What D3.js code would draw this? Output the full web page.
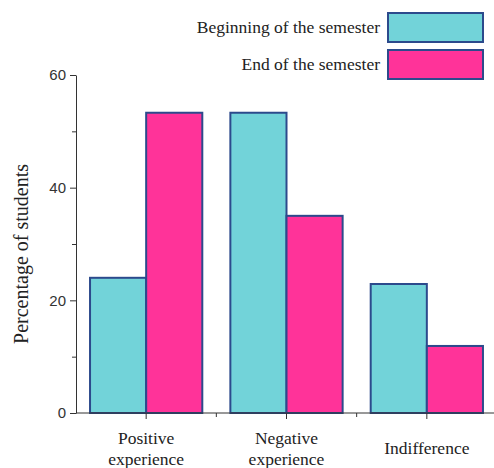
<!DOCTYPE html>
<html>
<head>
<meta charset="utf-8">
<script src="https://cdn.jsdelivr.net/npm/d3@7"></script>
<style>
  body { margin: 0; background: #fff; }
</style>
</head>
<body>
<div id="chart"></div>
<script>
const width = 494;
const height = 468;
const serif = "'Liberation Serif', 'Times New Roman', serif";
const sans = "'Liberation Sans', Arial, sans-serif";

// data
const categories = [["Positive", "experience"], ["Negative", "experience"], ["Indifference"]];
const seriesNames = ["Beginning of the semester", "End of the semester"];
const beginning = [24, 53.3, 22.9];
const ending = [53.3, 35, 11.9];
const yTicks = [0, 20, 40, 60];
const yMinor = [10, 30, 50];

const colors = ["#72d3d9", "#ff3399"];
const strokeColor = "#2c4a8c";

const margin = { left: 76, right: -3, top: 75, bottom: 55 };

const svg = d3.select("#chart")
  .append("svg")
  .attr("width", width)
  .attr("height", height);

const x = d3.scaleBand()
  .domain(d3.range(categories.length))
  .range([margin.left, width - margin.right])
  .paddingInner(0)
  .paddingOuter(0);

const xSub = d3.scaleBand()
  .domain([0, 1])
  .range([0, x.bandwidth()])
  .paddingOuter(0.25)
  .paddingInner(0);

const y = d3.scaleLinear()
  .domain([0, 60])
  .range([height - margin.bottom, margin.top]);

// bars
const groups = svg.append("g")
  .selectAll("g")
  .data(categories.map((c, i) => [beginning[i], ending[i]]))
  .enter()
  .append("g")
  .attr("transform", (d, i) => `translate(${x(i)},0)`);

groups.selectAll("rect")
  .data(d => d)
  .enter()
  .append("rect")
  .attr("x", (d, j) => xSub(j))
  .attr("width", xSub.bandwidth())
  .attr("y", d => y(d))
  .attr("height", d => y(0) - y(d))
  .attr("fill", (d, j) => colors[j])
  .attr("stroke", strokeColor)
  .attr("stroke-width", 2);

// y axis
const yAxis = svg.append("g")
  .attr("transform", `translate(${margin.left},0)`)
  .call(d3.axisLeft(y).tickValues(yTicks).tickSize(6).tickPadding(4).tickSizeOuter(0));
svg.append("g")
  .attr("transform", `translate(${margin.left},0)`)
  .call(d3.axisLeft(y).tickValues(yMinor).tickSize(4).tickFormat("").tickSizeOuter(0))
  .select(".domain").remove();

yAxis.selectAll("text")
  .style("font-family", sans)
  .style("font-size", "15px")
  .attr("fill", "#333");

// x axis
const xAxisG = svg.append("g")
  .attr("transform", `translate(0,${y(0)})`);
xAxisG.append("line")
  .attr("x1", margin.left)
  .attr("x2", width)
  .attr("stroke", "#333");
xAxisG.selectAll("line.major")
  .data(categories)
  .enter()
  .append("line")
  .attr("x1", (d, i) => x(i) + x.bandwidth() / 2)
  .attr("x2", (d, i) => x(i) + x.bandwidth() / 2)
  .attr("y1", 0)
  .attr("y2", 6)
  .attr("stroke", "#333");
xAxisG.selectAll("line.minor")
  .data(categories.slice(1))
  .enter()
  .append("line")
  .attr("x1", (d, i) => x(i + 1))
  .attr("x2", (d, i) => x(i + 1))
  .attr("y1", 0)
  .attr("y2", 4)
  .attr("stroke", "#333");

svg.selectAll(".domain").attr("stroke", "#333");
svg.selectAll(".tick line").attr("stroke", "#333");

// category labels
const labels = svg.append("g")
  .selectAll("text")
  .data(categories)
  .enter()
  .append("text")
  .attr("x", (d, i) => x(i) + x.bandwidth() / 2)
  .attr("text-anchor", "middle")
  .style("font-family", serif)
  .style("font-size", "17.5px")
  .attr("fill", "#222");

labels.each(function(d) {
  const t = d3.select(this);
  const startY = d.length === 1 ? 454 : 444;
  d.forEach((line, k) => {
    t.append("tspan")
      .attr("x", t.attr("x"))
      .attr("y", startY + k * 21)
      .text(line);
  });
});

// y label
svg.append("text")
  .attr("transform", `translate(28,254) rotate(-90)`)
  .attr("text-anchor", "middle")
  .style("font-family", serif)
  .style("font-size", "20px")
  .attr("fill", "#222")
  .text("Percentage of students");

// legend
const legend = svg.append("g")
  .selectAll("g")
  .data(seriesNames)
  .enter()
  .append("g")
  .attr("transform", (d, i) => `translate(0,${13 + i * 37})`);

legend.append("rect")
  .attr("x", 388)
  .attr("width", 95)
  .attr("height", 29)
  .attr("fill", (d, i) => colors[i])
  .attr("stroke", strokeColor)
  .attr("stroke-width", 2);

legend.append("text")
  .attr("x", 380)
  .attr("y", 20)
  .attr("text-anchor", "end")
  .style("font-family", serif)
  .style("font-size", "17.5px")
  .attr("fill", "#222")
  .text(d => d);
</script>
</body>
</html>
